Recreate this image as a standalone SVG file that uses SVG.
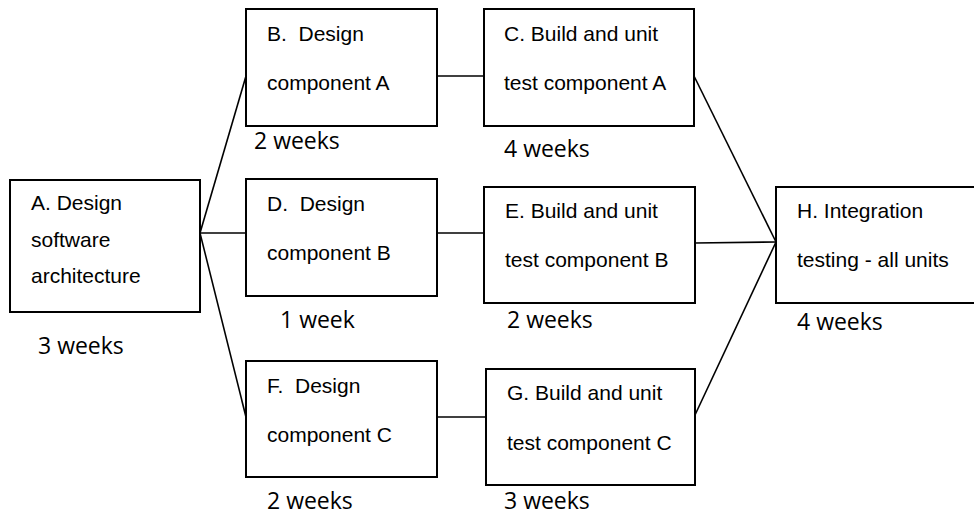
<svg xmlns="http://www.w3.org/2000/svg" width="974" height="517" viewBox="0 0 974 517">
<style>
.box{fill:#fff;stroke:#000;stroke-width:2}
.t{font-family:"Liberation Sans",Arial,sans-serif;font-size:21px;fill:#000}
.d{font-family:"Open Sans","Noto Sans",sans-serif;font-size:23px;fill:#000}
.c line{stroke:#000;stroke-width:1.6}
</style>
<rect width="974" height="517" fill="#fff"/>
<g class="c" id="connectors">
<line x1="200" y1="233" x2="246" y2="76"/>
<line x1="200" y1="233" x2="246" y2="233"/>
<line x1="200" y1="233" x2="246" y2="417"/>
<line x1="437" y1="76" x2="484" y2="76"/>
<line x1="437" y1="233" x2="484" y2="233"/>
<line x1="437" y1="417" x2="486" y2="417"/>
<line x1="694" y1="76" x2="776" y2="242"/>
<line x1="695" y1="243" x2="776" y2="242"/>
<line x1="695" y1="415" x2="776" y2="242"/>
</g>
<g id="A">
<rect class="box" x="10" y="180" width="190" height="132"/>
<text class="t" x="31" y="210">A. Design</text>
<text class="t" x="31" y="247">software</text>
<text class="t" x="31" y="283">architecture</text>
<text class="d" x="38" y="354">3 weeks</text>
</g>
<g id="B">
<rect class="box" x="246" y="9" width="191" height="117"/>
<text class="t" x="267" y="41" xml:space="preserve">B.  Design</text>
<text class="t" x="267" y="90">component A</text>
<text class="d" x="254" y="149">2 weeks</text>
</g>
<g id="C">
<rect class="box" x="484" y="9" width="210" height="117"/>
<text class="t" x="504" y="41">C. Build and unit</text>
<text class="t" x="504" y="90">test component A</text>
<text class="d" x="504" y="157">4 weeks</text>
</g>
<g id="D">
<rect class="box" x="246" y="179" width="191" height="117"/>
<text class="t" x="267" y="211" xml:space="preserve">D.  Design</text>
<text class="t" x="267" y="260">component B</text>
<text class="d" x="280" y="328">1 week</text>
</g>
<g id="E">
<rect class="box" x="484" y="187" width="211" height="116"/>
<text class="t" x="505" y="218">E. Build and unit</text>
<text class="t" x="505" y="267">test component B</text>
<text class="d" x="507" y="328">2 weeks</text>
</g>
<g id="F">
<rect class="box" x="246" y="361" width="191" height="116"/>
<text class="t" x="267" y="393" xml:space="preserve">F.  Design</text>
<text class="t" x="267" y="442">component C</text>
<text class="d" x="267" y="509">2 weeks</text>
</g>
<g id="G">
<rect class="box" x="486" y="369" width="209" height="116"/>
<text class="t" x="507" y="400">G. Build and unit</text>
<text class="t" x="507" y="450">test component C</text>
<text class="d" x="504" y="509">3 weeks</text>
</g>
<g id="H">
<rect class="box" x="776" y="187" width="210" height="116"/>
<text class="t" x="797" y="218">H. Integration</text>
<text class="t" x="797" y="267">testing - all units</text>
<text class="d" x="797" y="330">4 weeks</text>
</g>
</svg>
